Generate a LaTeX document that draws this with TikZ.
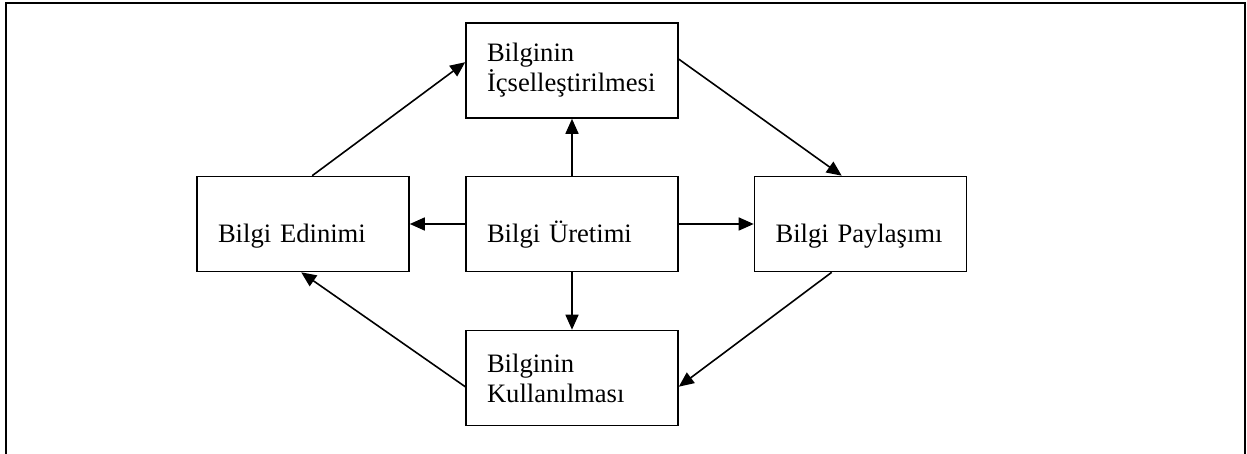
\documentclass[tikz,border=0pt]{standalone}
\usepackage{fontspec}
\setmainfont{Liberation Serif}
\usetikzlibrary{arrows.meta,calc}
\begin{document}
\begin{tikzpicture}[x=1pt,y=-1pt,
  box/.style={draw,line width=1.6pt,minimum width=212pt,minimum height=95pt,
    inner xsep=21pt,inner ysep=0pt,text width=170pt,align=left,
    font=\fontsize{26.6}{30}\selectfont},
  onebox/.style={box,text height=44pt,text depth=6pt},
  arr/.style={line width=1.6pt,-{Triangle[length=15pt,width=13pt]}},
  framel/.style={line width=2.2pt}]
\useasboundingbox (0,0) rectangle (1247,454);
\draw[framel] (6,454) -- (6,3) -- (1245,3) -- (1245,454);

\node[box] (T) at (572,70.5) {Bilginin\\İçselleştirilmesi};
\node[onebox] (C) at (572,224) {Bilgi Üretimi};
\node[onebox] (L) at (303,224) {Bilgi Edinimi};
\node[onebox] (R) at (860.5,224) {Bilgi Paylaşımı};
\node[box] (B) at (572,378) {Bilginin\\Kullanılması};

\draw[arr] ($(L.north west)+(116,0)$) -- ($(T.north west)+(0,40)$);
\draw[arr] ($(T.north east)+(0,37)$) -- ($(R.north west)+(88,0)$);
\draw[arr] ($(R.south west)+(78,0)$) -- ($(B.north east)+(0,57)$);
\draw[arr] ($(B.north west)+(0,57)$) -- ($(L.south west)+(105,0)$);
\draw[arr] (C.north) -- (T.south);
\draw[arr] (C.west) -- (L.east);
\draw[arr] (C.east) -- (R.west);
\draw[arr] (C.south) -- (B.north);
\end{tikzpicture}
\end{document}
